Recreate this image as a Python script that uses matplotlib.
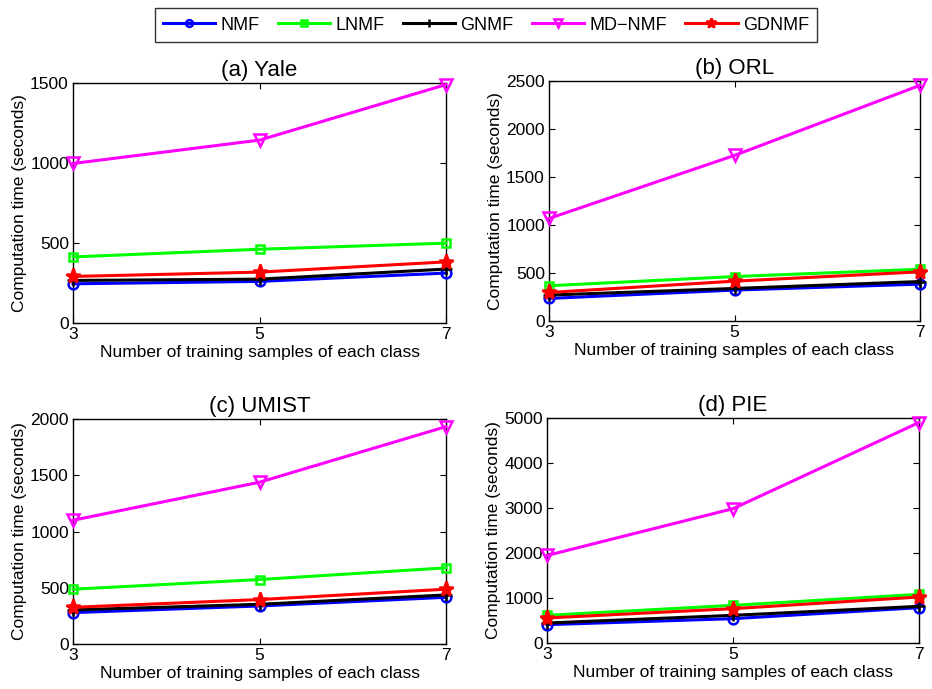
import matplotlib
matplotlib.use("Agg")
import matplotlib.pyplot as plt
from matplotlib.lines import Line2D

plt.rcParams['font.family'] = ['Liberation Sans', 'DejaVu Sans']

x_vals = [3, 5, 7]
methods = ["NMF", "LNMF", "GNMF", "MD\u2212NMF", "GDNMF"]

yale_nmf = [245, 260, 312]
yale_lnmf = [413, 461, 499]
yale_gnmf = [266, 274, 337]
yale_mdnmf = [997, 1143, 1490]
yale_gdnmf = [291, 318, 382]

orl_nmf = [235, 322, 384]
orl_lnmf = [367, 463, 539]
orl_gnmf = [270, 339, 411]
orl_mdnmf = [1068, 1725, 2455]
orl_gdnmf = [297, 415, 512]

umist_nmf = [279, 338, 415]
umist_lnmf = [487, 573, 677]
umist_gnmf = [303, 353, 436]
umist_mdnmf = [1100, 1438, 1932]
umist_gdnmf = [326, 395, 487]

pie_nmf = [407, 541, 785]
pie_lnmf = [615, 837, 1081]
pie_gnmf = [444, 615, 815]
pie_mdnmf = [1945, 2985, 4900]
pie_gdnmf = [556, 763, 1022]

titles = ["(a) Yale", "(b) ORL", "(c) UMIST", "(d) PIE"]
ylims = [1500, 2500, 2000, 5000]
ysteps = [500, 500, 500, 1000]
xlabel = "Number of training samples of each class"
ylabel = "Computation time (seconds)"

datasets = [
    [yale_nmf, yale_lnmf, yale_gnmf, yale_mdnmf, yale_gdnmf],
    [orl_nmf, orl_lnmf, orl_gnmf, orl_mdnmf, orl_gdnmf],
    [umist_nmf, umist_lnmf, umist_gnmf, umist_mdnmf, umist_gdnmf],
    [pie_nmf, pie_lnmf, pie_gnmf, pie_mdnmf, pie_gdnmf],
]

colors = ["#0000ff", "#00ff00", "#000000", "#ff00ff", "#ff0000"]
markers = ["o", "s", "+", "v", "*"]
msizes = [7, 6, 8, 8, 11]
mfc = ["none", "none", "#000000", "none", "#ff0000"]
order = [3, 1, 0, 2, 4]

W, H = 932, 689
fig = plt.figure(figsize=(W / 100, H / 100), dpi=100)

rects = [
    (73, 83, 446, 323),
    (549, 81, 920, 321),
    (73, 419, 446, 644),
    (547, 418, 919, 643),
]

for i, (l, t, r, b) in enumerate(rects):
    ax = fig.add_axes([l / W, 1 - b / H, (r - l) / W, (b - t) / H])
    for k in order:
        ax.plot(x_vals, datasets[i][k], color=colors[k], marker=markers[k],
                markersize=msizes[k], markerfacecolor=mfc[k],
                markeredgecolor=colors[k], markeredgewidth=1.8,
                linewidth=2.2, clip_on=False, zorder=3 + k)
    ax.set_xlim(3, 7)
    ax.set_ylim(0, ylims[i])
    ax.set_xticks(x_vals)
    ax.set_yticks(range(0, ylims[i] + 1, ysteps[i]))
    ax.tick_params(direction="in", top=True, right=True, labelsize=12.5,
                   length=4, width=0.8, pad=3)
    ax.set_title(titles[i], fontsize=16, pad=5)
    ax.set_xlabel(xlabel, fontsize=12.5, labelpad=2)
    ax.set_ylabel(ylabel, fontsize=12.5, labelpad=2)
    for s in ax.spines.values():
        s.set_linewidth(1.0)

handles = [Line2D([0], [0], color=colors[k], marker=markers[k],
                  markersize=msizes[k] * 0.7, markerfacecolor=mfc[k],
                  markeredgecolor=colors[k], markeredgewidth=1.8,
                  linewidth=2.2) for k in range(5)]
leg = fig.legend(handles, methods, loc="center", ncol=5,
                 bbox_to_anchor=(486 / W, 1 - 25 / H), fontsize=13,
                 frameon=True, fancybox=False, edgecolor="black",
                 handlelength=2.9, columnspacing=1.0, handletextpad=0.3,
                 borderpad=0.45, borderaxespad=0)
leg.get_frame().set_linewidth(1.0)

fig.savefig("out.png", dpi=100)
